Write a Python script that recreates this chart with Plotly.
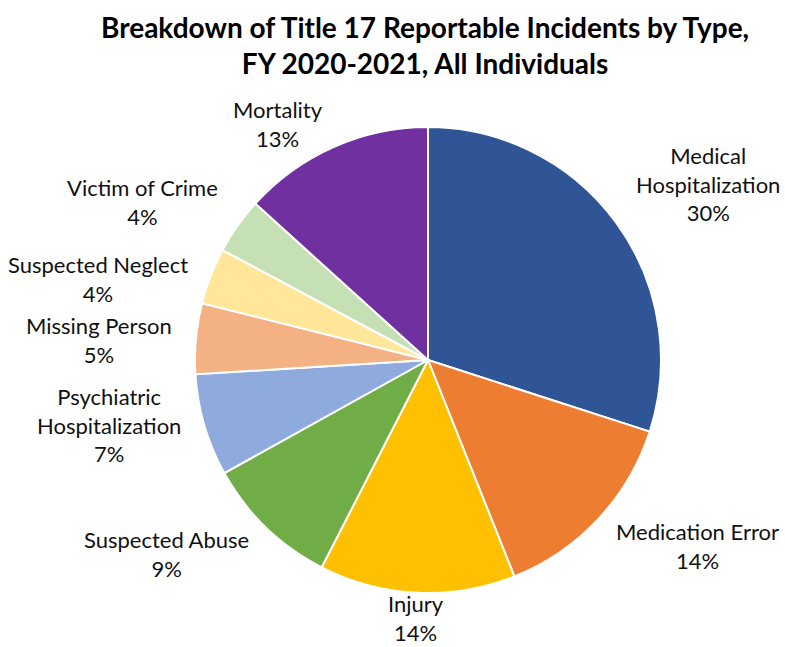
import math
import plotly.graph_objects as go

categories = ["Medical Hospitalization", "Medication Error", "Injury", "Suspected Abuse",
              "Psychiatric Hospitalization", "Missing Person", "Suspected Neglect",
              "Victim of Crime", "Mortality"]
display_labels = ["Medical<br>Hospitalization", "Medication Error", "Injury", "Suspected Abuse",
                  "Psychiatric<br>Hospitalization", "Missing Person", "Suspected Neglect",
                  "Victim of Crime", "Mortality"]
values = [30.0, 14.0, 13.6, 9.4, 7.1, 4.9, 3.9, 3.9, 13.3]
colors = ["#2F5597", "#ED7D31", "#FFC000", "#70AD47", "#8FAADC",
          "#F4B183", "#FFE699", "#C5E0B4", "#7030A0"]
title_text = "Breakdown of Title 17 Reportable Incidents by Type,<br>FY 2020-2021, All Individuals"

W, H = 785, 647
cx, cy, R = 428, 360, 233
FS = 22
LINE_H = 1.3 * FS
GAPX = 8     # horizontal gap between pie edge and label anchor
GAPY = -5    # vertical gap
XPUSH = 14   # extra horizontal push outward

fig = go.Figure(go.Pie(
    labels=categories, values=values, sort=False, direction="clockwise", rotation=0,
    showlegend=False, textinfo="none",
    marker=dict(colors=colors, line=dict(color="white", width=2)),
    domain=dict(x=[(cx - R) / W, (cx + R) / W], y=[1 - (cy + R) / H, 1 - (cy - R) / H]),
    hoverinfo="label+percent",
))

# ---- outside labels, placed from each slice's mid angle (Excel-like outside end) ----
total = sum(values)
labels_info = []
cum = 0.0
for name, v in zip(display_labels, values):
    theta = 2 * math.pi * (cum + v / 2) / total
    cum += v
    ux, uy = math.sin(theta), -math.cos(theta)          # screen coords, y down
    px = cx + (R + GAPX + XPUSH) * ux
    py = cy + (R + GAPY) * uy
    xa = "left" if ux > 0.25 else ("right" if ux < -0.25 else "center")
    ya = "top" if uy > 0.4 else ("bottom" if uy < -0.4 else "middle")
    pct = round(100 * v / total)
    text = f"{name}<br>{pct}%"
    nlines = text.count("<br>") + 1
    h = nlines * LINE_H
    top = py if ya == "top" else (py - h if ya == "bottom" else py - h / 2)
    labels_info.append(dict(text=text, x=px, top=top, h=h, xa=xa, side=(ux > 0)))

# simple vertical collision resolution per side
for side in (True, False):
    grp = sorted([l for l in labels_info if l["side"] == side], key=lambda l: l["top"])
    for _ in range(20):
        moved = False
        for a, b in zip(grp, grp[1:]):
            ov = a["top"] + a["h"] - b["top"]
            if ov > 0:
                a["top"] -= ov / 2
                b["top"] += ov / 2
                moved = True
        if not moved:
            break

for l in labels_info:
    fig.add_annotation(text=l["text"], xref="paper", yref="paper",
                       x=l["x"] / W, y=1 - l["top"] / H, xanchor=l["xa"], yanchor="top",
                       showarrow=False, align="center",
                       font=dict(family="Lato", size=FS, color="#111111"))

fig.add_annotation(text="<b>" + title_text + "</b>", xref="paper", yref="paper",
                   x=(cx - 3) / W, y=1 - 45 / H, xanchor="center", yanchor="middle",
                   showarrow=False, font=dict(family="Lato", size=28, color="#000000"))

fig.update_layout(
    width=W, height=H,
    margin=dict(l=0, r=0, t=0, b=0, autoexpand=False),
    paper_bgcolor="white",
)

fig.write_html("out.html")
